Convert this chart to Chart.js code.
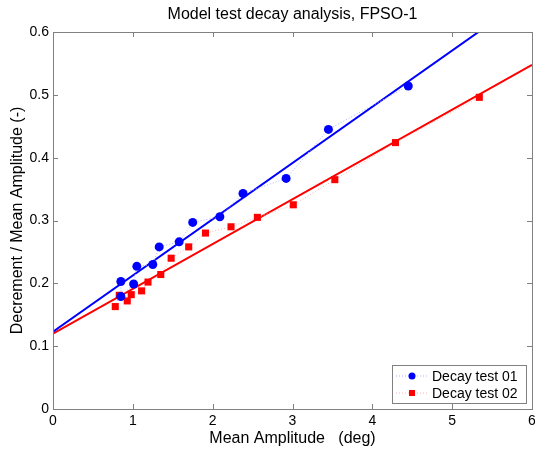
<!DOCTYPE html>
<html>
<head>
<meta charset="utf-8">
<script src="https://cdn.jsdelivr.net/npm/chart.js@4.4.0/dist/chart.umd.min.js"></script>
<style>
  html, body { margin: 0; padding: 0; background: #fff; }
  #wrap { width: 535px; height: 452px; }
</style>
</head>
<body>
<div id="wrap"><canvas id="chart"></canvas></div>
<script>
// valores
const test01X = [0.85, 0.85, 1.01, 1.05, 1.25, 1.33, 1.58, 1.75, 2.09, 2.38, 2.92, 3.45, 4.45];
const test01Y = [0.203, 0.179, 0.199, 0.227, 0.230, 0.258, 0.266, 0.297, 0.306, 0.343, 0.367, 0.445, 0.514];
const test02X = [0.78, 0.83, 0.93, 0.98, 1.11, 1.19, 1.35, 1.48, 1.70, 1.91, 2.23, 2.56, 3.01, 3.53, 4.29, 5.34];
const test02Y = [0.163, 0.181, 0.172, 0.182, 0.188, 0.202, 0.214, 0.240, 0.258, 0.280, 0.290, 0.305, 0.325, 0.365, 0.424, 0.496];

// retas ajustadas (intercepto, inclinacao)
const fit01 = [0.123, 0.0895];
const fit02 = [0.120, 0.0713];

const xTicks = [0, 1, 2, 3, 4, 5, 6];
const yTicks = [0, 0.1, 0.2, 0.3, 0.4, 0.5, 0.6];
const seriesNames = ['Decay test 01', 'Decay test 02'];
const titulo = 'Model test decay analysis, FPSO-1';

const FONT = "'Liberation Sans', Arial, sans-serif";

function pontos(xs, ys) {
    return xs.map((x, i) => ({ x: x, y: ys[i] }));
}
function reta(fit) {
    const x0 = xTicks[0], x1 = xTicks[xTicks.length - 1];
    return [{ x: x0, y: fit[0] + fit[1] * x0 }, { x: x1, y: fit[0] + fit[1] * x1 }];
}

// caixa + ticks para dentro (estilo matlab) + titulo + legenda
const boxPlugin = {
    id: 'boxPlugin',
    afterDraw(chart) {
        const ctx = chart.ctx;
        const a = chart.chartArea;
        const xs = chart.scales.x, ys = chart.scales.y;
        ctx.save();
        ctx.strokeStyle = '#808080';
        ctx.lineWidth = 1;
        ctx.strokeRect(Math.round(a.left) + 0.5, Math.round(a.top) + 0.5, Math.round(a.right - a.left), Math.round(a.bottom - a.top));
        ctx.beginPath();
        xTicks.forEach(v => {
            const p = Math.round(xs.getPixelForValue(v)) + 0.5;
            ctx.moveTo(p, a.bottom); ctx.lineTo(p, a.bottom - 5);
            ctx.moveTo(p, a.top); ctx.lineTo(p, a.top + 5);
        });
        yTicks.forEach(v => {
            const p = Math.round(ys.getPixelForValue(v)) + 0.5;
            ctx.moveTo(a.left, p); ctx.lineTo(a.left + 5, p);
            ctx.moveTo(a.right, p); ctx.lineTo(a.right - 5, p);
        });
        ctx.stroke();

        // rotulos do eixo x (desenhados aqui para o "6" poder sair da area)
        ctx.fillStyle = '#000';
        ctx.font = '14px ' + FONT;
        ctx.textAlign = 'center';
        ctx.textBaseline = 'middle';
        xTicks.forEach(v => {
            ctx.fillText(String(v), xs.getPixelForValue(v), a.bottom + 12);
        });

        // titulo centrado na area do grafico
        ctx.font = '16px ' + FONT;
        ctx.fillText(titulo, (a.left + a.right) / 2, 15);

        // legenda
        const lx = 392, ly = 365, lw = 134, lh = 38;
        ctx.textAlign = 'left';
        ctx.fillStyle = '#fff';
        ctx.fillRect(lx, ly, lw, lh);
        ctx.strokeStyle = '#808080';
        ctx.strokeRect(lx + 0.5, ly + 0.5, lw, lh);
        const cores = ['#0000ff', '#ff0000'];
        const leves = ['#b0b0ff', '#ffb0b0'];
        seriesNames.forEach((nome, i) => {
            const y = ly + 11 + i * 17;
            ctx.strokeStyle = leves[i];
            ctx.setLineDash([1, 2]);
            ctx.beginPath();
            ctx.moveTo(lx + 4, y); ctx.lineTo(lx + 36, y);
            ctx.stroke();
            ctx.setLineDash([]);
            ctx.fillStyle = cores[i];
            if (i === 0) {
                ctx.beginPath(); ctx.arc(lx + 20, y, 3.5, 0, Math.PI * 2); ctx.fill();
            } else {
                ctx.fillRect(lx + 17, y - 3, 6, 6);
            }
            ctx.fillStyle = '#000';
            ctx.font = '14px ' + FONT;
            ctx.textBaseline = 'middle';
            ctx.fillText(nome, lx + 40, y + 1);
        });
        ctx.restore();
    }
};

const ctx = document.getElementById('chart');
const grafico = new Chart(ctx, {
    type: 'scatter',
    data: {
        datasets: [
            {
                label: seriesNames[0],
                data: pontos(test01X, test01Y),
                showLine: true,
                borderColor: '#b0b0ff',
                borderWidth: 1,
                borderDash: [1, 2],
                backgroundColor: '#0000ff',
                pointBackgroundColor: '#0000ff',
                pointBorderWidth: 0,
                pointRadius: 4.5,
                pointStyle: 'circle',
                order: 1
            },
            {
                label: seriesNames[1],
                data: pontos(test02X, test02Y),
                showLine: true,
                borderColor: '#ffb0b0',
                borderWidth: 1,
                borderDash: [1, 2],
                backgroundColor: '#ff0000',
                pointBackgroundColor: '#ff0000',
                pointBorderWidth: 0,
                pointRadius: 5,
                pointStyle: 'rect',
                order: 2
            },
            {
                label: 'fit01',
                data: reta(fit01),
                showLine: true,
                borderColor: '#0000ff',
                borderWidth: 2,
                pointRadius: 0,
                order: 3
            },
            {
                label: 'fit02',
                data: reta(fit02),
                showLine: true,
                borderColor: '#ff0000',
                borderWidth: 2,
                pointRadius: 0,
                order: 4
            }
        ]
    },
    options: {
        responsive: true,
        maintainAspectRatio: false,
        animation: false,
        layout: { autoPadding: false, padding: { left: 0, right: 3, top: 32, bottom: 0 } },
        plugins: {
            legend: { display: false },
            tooltip: { enabled: false },
            title: { display: false }
        },
        scales: {
            x: {
                type: 'linear',
                min: 0, max: 6,
                afterBuildTicks: s => { s.ticks = xTicks.map(v => ({ value: v })); },
                afterFit: s => { s.height = 43; },
                grid: { display: false, drawTicks: false },
                border: { display: false },
                ticks: { display: false },
                title: {
                    display: true,
                    text: 'Mean Amplitude   (deg)',
                    color: '#000',
                    font: { family: FONT, size: 16 },
                    padding: { top: 0, bottom: 4 }
                }
            },
            y: {
                type: 'linear',
                min: 0, max: 0.6,
                afterBuildTicks: s => { s.ticks = yTicks.map(v => ({ value: v })); },
                afterFit: s => { s.width = 53; },
                grid: { display: false, drawTicks: false },
                border: { display: false },
                ticks: { color: '#000', font: { family: FONT, size: 14 }, padding: 4 },
                title: {
                    display: true,
                    text: 'Decrement / Mean Amplitude (-)',
                    color: '#000',
                    font: { family: FONT, size: 16 },
                    padding: { top: 8, bottom: 0 }
                }
            }
        }
    },
    plugins: [boxPlugin]
});
</script>
</body>
</html>
